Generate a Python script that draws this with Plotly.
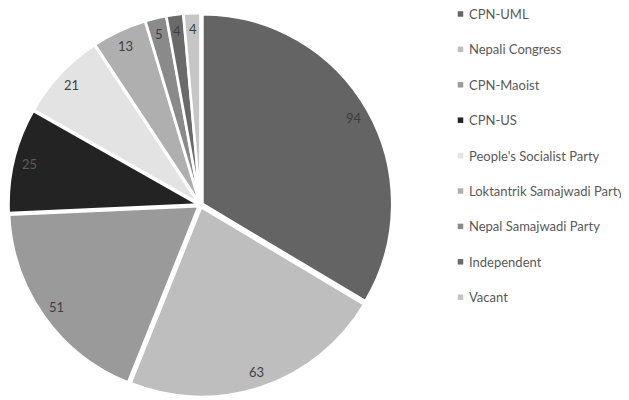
import math
import plotly.graph_objects as go

parties = ["CPN-UML", "Nepali Congress", "CPN-Maoist", "CPN-US",
           "People's Socialist Party", "Loktantrik Samajwadi Party",
           "Nepal Samajwadi Party", "Independent", "Vacant"]
seats = [94, 63, 51, 25, 21, 13, 5, 4, 4]
colors = ["#646464", "#bebebe", "#9a9a9a", "#232323", "#e3e3e3",
          "#afafaf", "#8a8a8a", "#6a6a6a", "#c6c6c6"]
label_colors = ["#3c3c3c", "#404040", "#404040", "#5c5c5c", "#404040",
                "#404040", "#404040", "#404040", "#404040"]

FONT = "Lato, 'Open Sans', sans-serif"
W, H = 629, 400
OFF = 8.0  # page body margin of the html page

# pie geometry (screen pixels)
CX, CY, HALF = 200.5 - OFF, 205.0 - OFF, 192.0
PULL = 0.012
LABEL_R = 176.0

fig = go.Figure()
fig.add_trace(go.Pie(
    labels=parties, values=seats, sort=False, direction="clockwise",
    rotation=0, pull=[PULL] * len(seats),
    marker=dict(colors=colors, line=dict(color="white", width=2.5)),
    textinfo="none", showlegend=False, hoverinfo="label+value",
    domain=dict(x=[(CX - HALF) / W, (CX + HALF) / W],
                y=[1 - (CY + HALF) / H, 1 - (CY - HALF) / H]),
))

# value labels placed near the outer edge of each slice
total = sum(seats)
cum = 0
for v, tc in zip(seats, label_colors):
    mid = (cum + v / 2) / total * 2 * math.pi
    cum += v
    px = CX + LABEL_R * math.sin(mid)
    py = CY - LABEL_R * math.cos(mid)
    fig.add_annotation(x=px / W, y=1 - py / H, xref="paper", yref="paper",
                       text=str(v), showarrow=False, xanchor="center",
                       yanchor="middle",
                       font=dict(family=FONT, size=13, color=tc))

# legend
LEG_X, LEG_Y0, LEG_DY, SQ = 460.5 - OFF, 14.0 - OFF, 35.4, 5.5
for i, (p, c) in enumerate(zip(parties, colors)):
    y = LEG_Y0 + i * LEG_DY
    fig.add_shape(type="rect", xref="paper", yref="paper",
                  x0=(LEG_X - SQ / 2) / W, x1=(LEG_X + SQ / 2) / W,
                  y0=1 - (y + SQ / 2) / H, y1=1 - (y - SQ / 2) / H,
                  fillcolor=c, line=dict(width=0))
    fig.add_annotation(x=(LEG_X + 6.0) / W, y=1 - y / H, xref="paper",
                       yref="paper", text=p, showarrow=False,
                       xanchor="left", yanchor="middle",
                       font=dict(family=FONT, size=13, color="#595959"))

fig.update_layout(
    width=W, height=H,
    margin=dict(l=0, r=0, t=0, b=0),
    paper_bgcolor="white", plot_bgcolor="white",
    font=dict(family=FONT),
)
fig.write_html("out.html")
